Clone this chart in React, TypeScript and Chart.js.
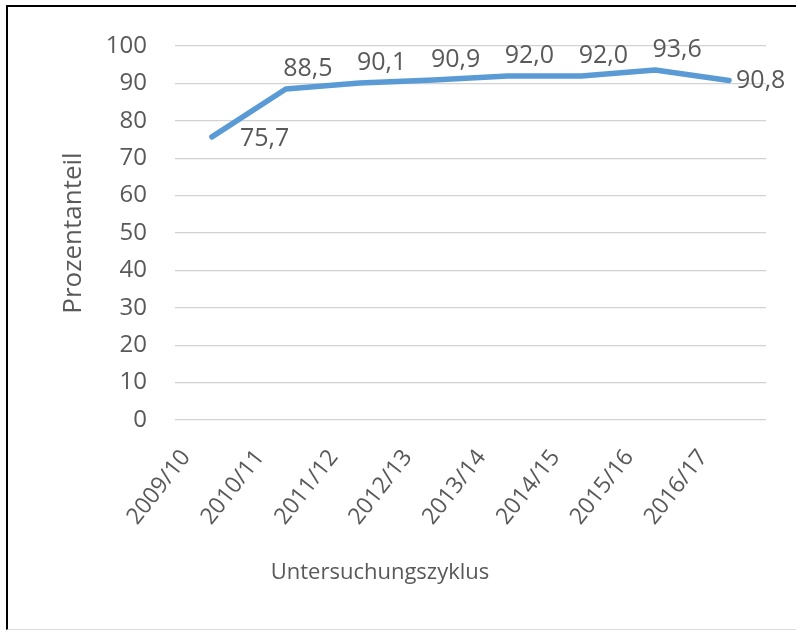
import React, { useEffect, useRef } from "react";
import { Chart, registerables } from "chart.js";

Chart.register(...registerables);

const categories = ["2009/10", "2010/11", "2011/12", "2012/13", "2013/14", "2014/15", "2015/16", "2016/17"];
const shares = [75.7, 88.5, 90.1, 90.9, 92.0, 92.0, 93.6, 90.8];
const yTitle = "Prozentanteil";
const xTitle = "Untersuchungszyklus";

const TEXT = "#595959";
const FONT = '"Open Sans", "DejaVu Sans", sans-serif';

const fmt = (v: number) => v.toFixed(1).replace(".", ",");

const decorPlugin = {
  id: "decor",
  afterDatasetsDraw(chart: any) {
    const ctx = chart.ctx as CanvasRenderingContext2D;
    const meta = chart.getDatasetMeta(0);
    const xs = chart.scales.x;
    const n = meta.data.length;
    ctx.save();
    ctx.fillStyle = TEXT;

    // value labels
    ctx.font = `25px ${FONT}`;
    ctx.textBaseline = "middle";
    meta.data.forEach((pt: any, i: number) => {
      const t = fmt(shares[i]);
      if (i === 0) {
        ctx.textAlign = "left";
        ctx.fillText(t, pt.x + 28, pt.y + 2);
      } else if (i === n - 1) {
        ctx.textAlign = "left";
        ctx.fillText(t, pt.x + 7, pt.y);
      } else {
        ctx.textAlign = "center";
        ctx.fillText(t, pt.x + 22, pt.y - 20);
      }
    });

    // rotated category labels
    ctx.font = `23px ${FONT}`;
    ctx.textAlign = "right";
    ctx.textBaseline = "middle";
    categories.forEach((c, i) => {
      const px = xs.getPixelForValue(i);
      ctx.save();
      ctx.translate(px - 26, chart.chartArea.bottom + 33);
      ctx.rotate((-52 * Math.PI) / 180);
      ctx.fillText(c, 0, 0);
      ctx.restore();
    });

    // axis titles
    ctx.textAlign = "center";
    ctx.font = `26px ${FONT}`;
    ctx.save();
    ctx.translate(74, (chart.chartArea.top + chart.chartArea.bottom) / 2);
    ctx.rotate(-Math.PI / 2);
    ctx.fillText(yTitle, 0, 0);
    ctx.restore();
    ctx.font = `22px ${FONT}`;
    ctx.fillText(xTitle, 380, 573);

    ctx.restore();
  },
};

export default function App() {
  const ref = useRef<HTMLCanvasElement>(null);
  useEffect(() => {
    if (!ref.current) return;
    const chart = new Chart(ref.current, {
      type: "line",
      data: {
        labels: categories,
        datasets: [
          {
            data: shares,
            borderColor: "#5b9bd5",
            borderWidth: 5.5,
            pointRadius: 0,
            tension: 0,
            borderJoinStyle: "round",
            borderCapStyle: "round",
            fill: false,
          },
        ],
      },
      options: {
        responsive: false,
        animation: false,
        layout: { padding: { top: 46, right: 30, left: 0, bottom: 0 } },
        plugins: { legend: { display: false }, tooltip: { enabled: false } },
        scales: {
          x: {
            type: "category",
            offset: true,
            grid: { display: false },
            border: { display: false },
            ticks: { display: false },
            afterFit(s: any) {
              s.height = 213;
            },
          },
          y: {
            min: 0,
            max: 100,
            ticks: { stepSize: 10, color: TEXT, font: { family: FONT, size: 24 }, padding: 28 },
            grid: { color: "#d2d2d2", lineWidth: 1.2, drawTicks: false },
            border: { display: false },
            afterFit(s: any) {
              s.width = 175;
            },
          },
        },
      },
      plugins: [decorPlugin],
    });
    return () => chart.destroy();
  }, []);

  return (
    <div style={{ position: "absolute", left: 0, top: 0, width: 796, height: 633, background: "#ffffff" }}>
      <canvas ref={ref} width={796} height={633} style={{ position: "absolute", left: 0, top: 0 }} />
      <div
        style={{
          position: "absolute",
          left: 6,
          top: 5,
          width: 790,
          height: 625,
          borderTop: "2px solid #000",
          borderLeft: "2px solid #000",
          borderBottom: "1px solid #dcdcdc",
          boxSizing: "border-box",
          pointerEvents: "none",
        }}
      />
    </div>
  );
}
